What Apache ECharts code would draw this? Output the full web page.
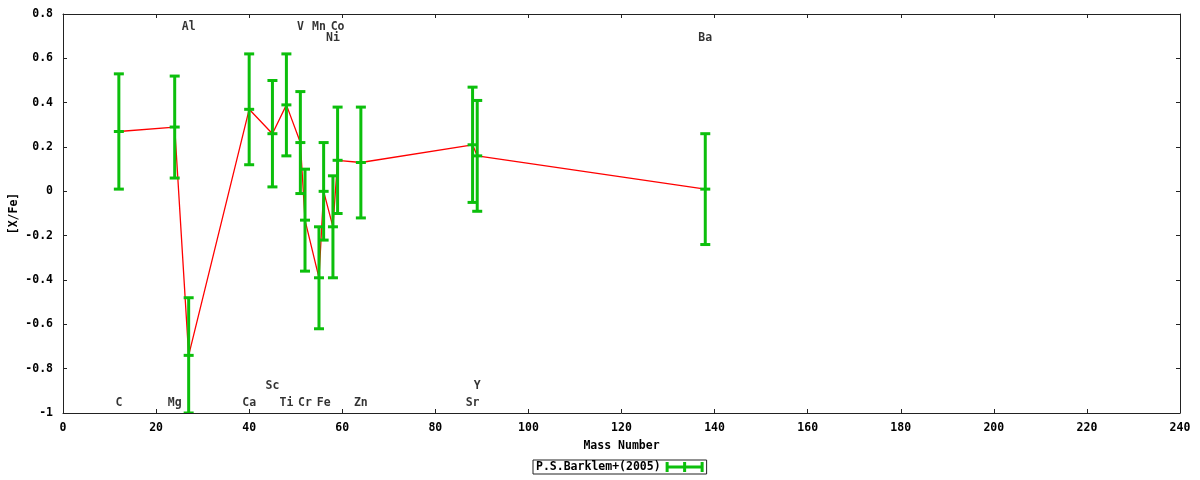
<!DOCTYPE html>
<html>
<head>
<meta charset="utf-8">
<script src="https://cdn.jsdelivr.net/npm/echarts@6/dist/echarts.min.js"></script>
<style>
html,body{margin:0;padding:0;background:#fff;}
#chart{width:1200px;height:480px;}
</style>
</head>
<body>
<div id="chart"></div>
<script>
// ---- data ----
const elements   = ['C','Mg','Al','Ca','Sc','Ti','V','Cr','Mn','Fe','Ni','Co','Zn','Sr','Y','Ba'];
const massNumber = [12, 24, 27, 40, 45, 48, 51, 52, 55, 56, 58, 59, 64, 88, 89, 138];
const xFe        = [0.27, 0.29, -0.74, 0.37, 0.26, 0.39, 0.22, -0.13, -0.39, 0.00, -0.16, 0.14, 0.13, 0.21, 0.16, 0.01];
const xFeErr     = [0.26, 0.23, 0.26, 0.25, 0.24, 0.23, 0.23, 0.23, 0.23, 0.22, 0.23, 0.24, 0.25, 0.26, 0.25, 0.25];
// y (in [X/Fe] units) where each element name is written
const labelY     = [-0.955, -0.955, 0.74, -0.955, -0.88, -0.955, 0.74, -0.955, 0.74, -0.955, 0.69, 0.74, -0.955, -0.955, -0.88, 0.69];
const seriesName = 'P.S.Barklem+(2005)';
const xAxisName  = 'Mass Number';
const yAxisName  = '[X/Fe]';

// ---- build ----
const FONT = 'DejaVu Sans Mono';
const GREEN = '#0cbf0c';
const errData = massNumber.map((m, i) => [m, xFe[i], xFeErr[i]]);
const lineData = massNumber.map((m, i) => [m, xFe[i]]);
const labelData = massNumber.map((m, i) => ({ value: [m, labelY[i]], name: elements[i] }));

const txt = { fontFamily: FONT, fontWeight: 'bold', fontSize: 11.5, color: '#000' };
const axisLine = { show: true, onZero: false, lineStyle: { color: '#222', width: 1 } };
const tick = { show: true, inside: true, length: 4, lineStyle: { color: '#222', width: 1 } };
const fmtY = v => { const r = Math.round(v * 10) / 10; return String(r); };

const chart = echarts.init(document.getElementById('chart'), null, { renderer: 'canvas' });
chart.setOption({
  animation: false,
  backgroundColor: '#fff',
  grid: { left: 63, right: 20, top: 14, bottom: 67, containLabel: false, outerBoundsMode: 'none' },
  xAxis: [
    { type: 'value', position: 'bottom', min: 0, max: 240, interval: 20,
      name: xAxisName, nameLocation: 'middle', nameGap: 27, nameTextStyle: txt,
      axisLine: axisLine, axisTick: tick, splitLine: { show: false },
      axisLabel: Object.assign({ margin: 9 }, txt) },
    { type: 'value', position: 'top', min: 0, max: 240, interval: 20,
      axisLine: axisLine, axisTick: tick, splitLine: { show: false }, axisLabel: { show: false } }
  ],
  yAxis: [
    { type: 'value', position: 'left', min: -1, max: 0.8, interval: 0.2,
      name: yAxisName, nameLocation: 'middle', nameGap: 43, nameRotate: 90, nameTextStyle: txt,
      nameMoveOverlap: false,
      axisLine: axisLine, axisTick: tick, splitLine: { show: false },
      axisLabel: Object.assign({ margin: 10, formatter: fmtY }, txt) },
    { type: 'value', position: 'right', min: -1, max: 0.8, interval: 0.2,
      axisLine: axisLine, axisTick: tick, splitLine: { show: false }, axisLabel: { show: false } }
  ],
  legend: {
    data: [seriesName],
    top: 460, left: 533,
    orient: 'horizontal',
    align: 'right',
    borderColor: '#222', borderWidth: 1, padding: [1, 3, 1, 3],
    itemWidth: 38, itemHeight: 10, itemGap: 6,
    icon: 'path://M0,3.5H38V6.5H0Z M0,0H3V10H0Z M17.5,0H20.5V10H17.5Z M35,0H38V10H35Z',
    textStyle: txt,
    itemStyle: { color: GREEN }
  },
  series: [
    { type: 'line', name: 'mean', data: lineData, showSymbol: false, symbol: 'none',
      lineStyle: { color: '#ff0000', width: 1.3 }, z: 2, silent: true },
    { type: 'custom', name: seriesName, data: errData, z: 3, clip: true,
      itemStyle: { color: GREEN },
      renderItem: function (params, api) {
        const x = api.value(0), y = api.value(1), e = api.value(2);
        const pTop = api.coord([x, y + e]);
        const pBot = api.coord([x, y - e]);
        const pMid = api.coord([x, y]);
        const hw = 5;
        const st = { stroke: GREEN, lineWidth: 3, fill: null };
        return {
          type: 'group',
          children: [
            { type: 'line', shape: { x1: pTop[0], y1: pTop[1], x2: pBot[0], y2: pBot[1] }, style: st },
            { type: 'line', shape: { x1: pTop[0] - hw, y1: pTop[1], x2: pTop[0] + hw, y2: pTop[1] }, style: st },
            { type: 'line', shape: { x1: pBot[0] - hw, y1: pBot[1], x2: pBot[0] + hw, y2: pBot[1] }, style: st },
            { type: 'line', shape: { x1: pMid[0] - hw, y1: pMid[1], x2: pMid[0] + hw, y2: pMid[1] }, style: st }
          ]
        };
      }
    },
    { type: 'scatter', name: 'labels', data: labelData, symbolSize: 0, silent: true, z: 4,
      label: { show: true, position: 'inside', formatter: p => p.name,
               fontFamily: FONT, fontWeight: 'bold', fontSize: 11.5, color: '#000' } }
  ]
});
</script>
</body>
</html>
